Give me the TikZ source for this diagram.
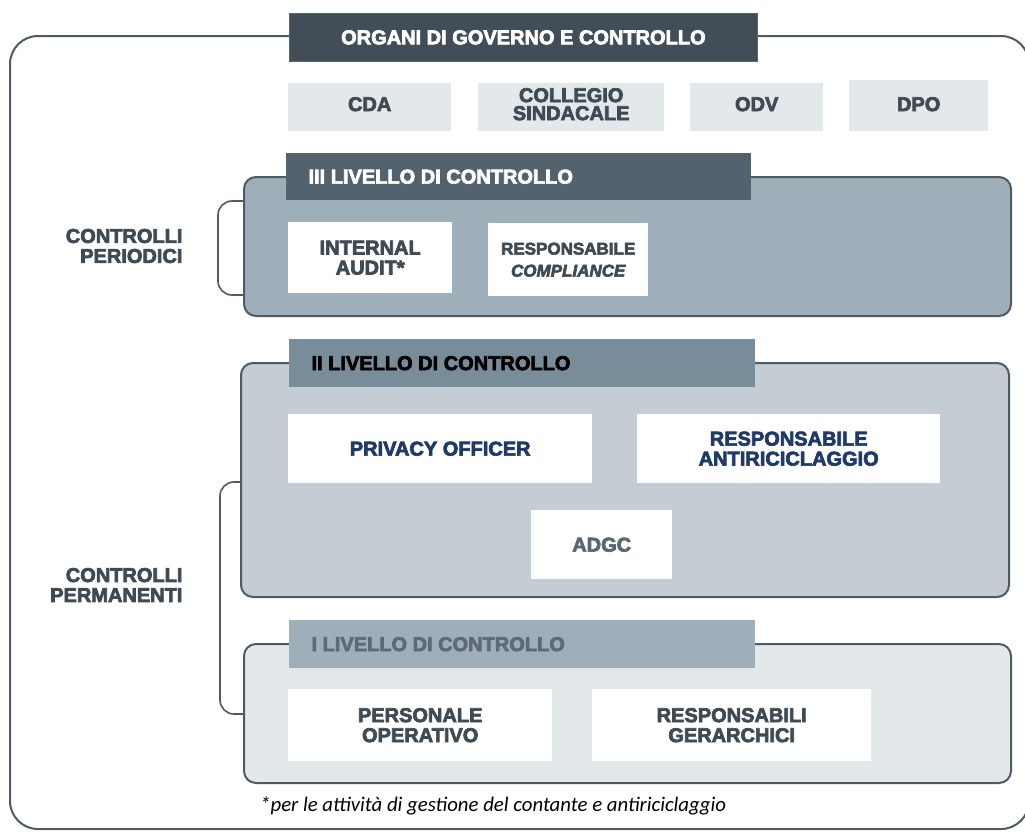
\documentclass[tikz,border=0pt]{standalone}
\usepackage{fontspec}
\setmainfont{Liberation Sans}
\newfontfamily\heavy{Liberation Sans}[UprightFont={* Bold}, ItalicFont={* Bold Italic}, UprightFeatures={FakeBold=3.4}, ItalicFeatures={FakeBold=3.4}]
\newfontfamily\notefont{Carlito}

\definecolor{titlefill}{HTML}{414D57}
\definecolor{hdrthree}{HTML}{52626F}
\definecolor{panthree}{HTML}{9FAFB9}
\definecolor{hdrtwo}{HTML}{788C9A}
\definecolor{pantwo}{HTML}{C4CCD4}
\definecolor{hdrone}{HTML}{9FAFB9}
\definecolor{panone}{HTML}{E3E8EB}
\definecolor{lightbox}{HTML}{E3E8EB}
\definecolor{txtgray}{HTML}{3E4A54}
\definecolor{txtnavy}{HTML}{1F3A68}
\definecolor{txtmid}{HTML}{5A6670}
\definecolor{txtone}{HTML}{5E6B76}
\definecolor{edge}{HTML}{4E5A64}

\tikzset{
  lbl/.style={font=\heavy\fontsize{20}{20}\selectfont, text=txtgray, align=center},
  cell/.style={lbl, inner sep=0pt, anchor=north west},
  panel/.style={draw=edge, line width=2pt, rounded corners=12pt},
  bracket/.style={draw=edge, line width=1.6pt, rounded corners=14pt},
}

\begin{document}
\begin{tikzpicture}[x=1pt, y=-1pt]
\useasboundingbox (0,0) rectangle (1025,831);
\fill[white] (0,0) rectangle (1025,831);

% outer frame of the governance area
\draw[draw=edge, line width=2pt, rounded corners=28pt] (10,36) rectangle (1029,829);

% governing bodies
\node[cell, fill=titlefill, draw=txtmid, line width=0.8pt, minimum width=468pt, minimum height=48pt] (organi) at (289,13) {};
\node[lbl, text=white] at (organi.center) {ORGANI DI GOVERNO E CONTROLLO};

\node[cell, fill=lightbox, minimum width=163pt, minimum height=48pt] (cda) at (288,83) {};
\node[lbl] at ([yshift=3pt]cda.center) {CDA};
\node[cell, fill=lightbox, minimum width=186pt, minimum height=48pt] (collegio) at (478,83) {};
\node[lbl, font=\heavy\fontsize{20}{18}\selectfont] at ([yshift=3pt]collegio.center) {COLLEGIO\\SINDACALE};
\node[cell, fill=lightbox, minimum width=133pt, minimum height=48pt] (odv) at (690,83) {};
\node[lbl] at ([yshift=3pt]odv.center) {ODV};
\node[cell, fill=lightbox, minimum width=139pt, minimum height=51pt] (dpo) at (849,80) {};
\node[lbl] at ([yshift=1.5pt]dpo.center) {DPO};

% third level
\draw[panel, fill=panthree] (244,177) rectangle (1011,316);
\node[cell, fill=hdrthree, minimum width=465pt, minimum height=47pt] (hdrIII) at (286,153) {};
\node[lbl, text=white, anchor=west] at ([xshift=19pt]hdrIII.west) {III LIVELLO DI CONTROLLO};

\node[cell, fill=white, minimum width=164pt, minimum height=71pt] (audit) at (288,222) {};
\node[lbl] at (audit.center) {INTERNAL\\AUDIT*};
\node[cell, fill=white, minimum width=160pt, minimum height=73pt] (compl) at (488,223) {};
\node[lbl, font=\heavy\fontsize{17}{22}\selectfont] at (compl.center) {RESPONSABILE\\\itshape COMPLIANCE};

% second level
\draw[panel, fill=pantwo] (241,363) rectangle (1009,597);
\node[cell, fill=hdrtwo, minimum width=466pt, minimum height=48pt] (hdrII) at (289,339) {};
\node[lbl, text=black, anchor=west] at ([xshift=19pt]hdrII.west) {II LIVELLO DI CONTROLLO};

\node[cell, fill=white, minimum width=304pt, minimum height=69pt] (privacy) at (288,414) {};
\node[lbl, text=txtnavy] at (privacy.center) {PRIVACY OFFICER};
\node[cell, fill=white, minimum width=303pt, minimum height=69pt] (aml) at (637,414) {};
\node[lbl, text=txtnavy] at (aml.center) {RESPONSABILE\\ANTIRICICLAGGIO};
\node[cell, fill=white, minimum width=141pt, minimum height=69pt] (adgc) at (531,510) {};
\node[lbl, text=txtmid] at (adgc.center) {ADGC};

% first level
\draw[panel, fill=panone] (244,644) rectangle (1011,783);
\node[cell, fill=hdrone, minimum width=466pt, minimum height=48pt] (hdrI) at (289,620) {};
\node[lbl, text=txtone, anchor=west] at ([xshift=19pt]hdrI.west) {I LIVELLO DI CONTROLLO};

\node[cell, fill=white, minimum width=264pt, minimum height=72pt] (pers) at (288,689) {};
\node[lbl] at (pers.center) {PERSONALE\\OPERATIVO};
\node[cell, fill=white, minimum width=279pt, minimum height=72pt] (gerar) at (592,689) {};
\node[lbl] at (gerar.center) {RESPONSABILI\\GERARCHICI};

% side labels and their brackets
\node[lbl, align=right, anchor=east] (periodici) at (186,246) {CONTROLLI\\PERIODICI};
\node[lbl, align=right, anchor=east] (permanenti) at (186,585) {CONTROLLI\\PERMANENTI};

\coordinate (pTop) at (243,201);
\coordinate (pBot) at (243,295);
\draw[bracket] (pTop) -- (218,201) -- (218,295) -- (pBot);
\coordinate (qTop) at (241,482);
\coordinate (qBot) at (244,714);
\draw[bracket] (qTop) -- (220,482) -- (220,714) -- (qBot);

% footnote
\node[anchor=base west, inner sep=0pt, font=\notefont\itshape\fontsize{20.8}{22}\selectfont, text=black] (note) at (260,811) {*per le attività di gestione del contante e antiriciclaggio};
\end{tikzpicture}
\end{document}
